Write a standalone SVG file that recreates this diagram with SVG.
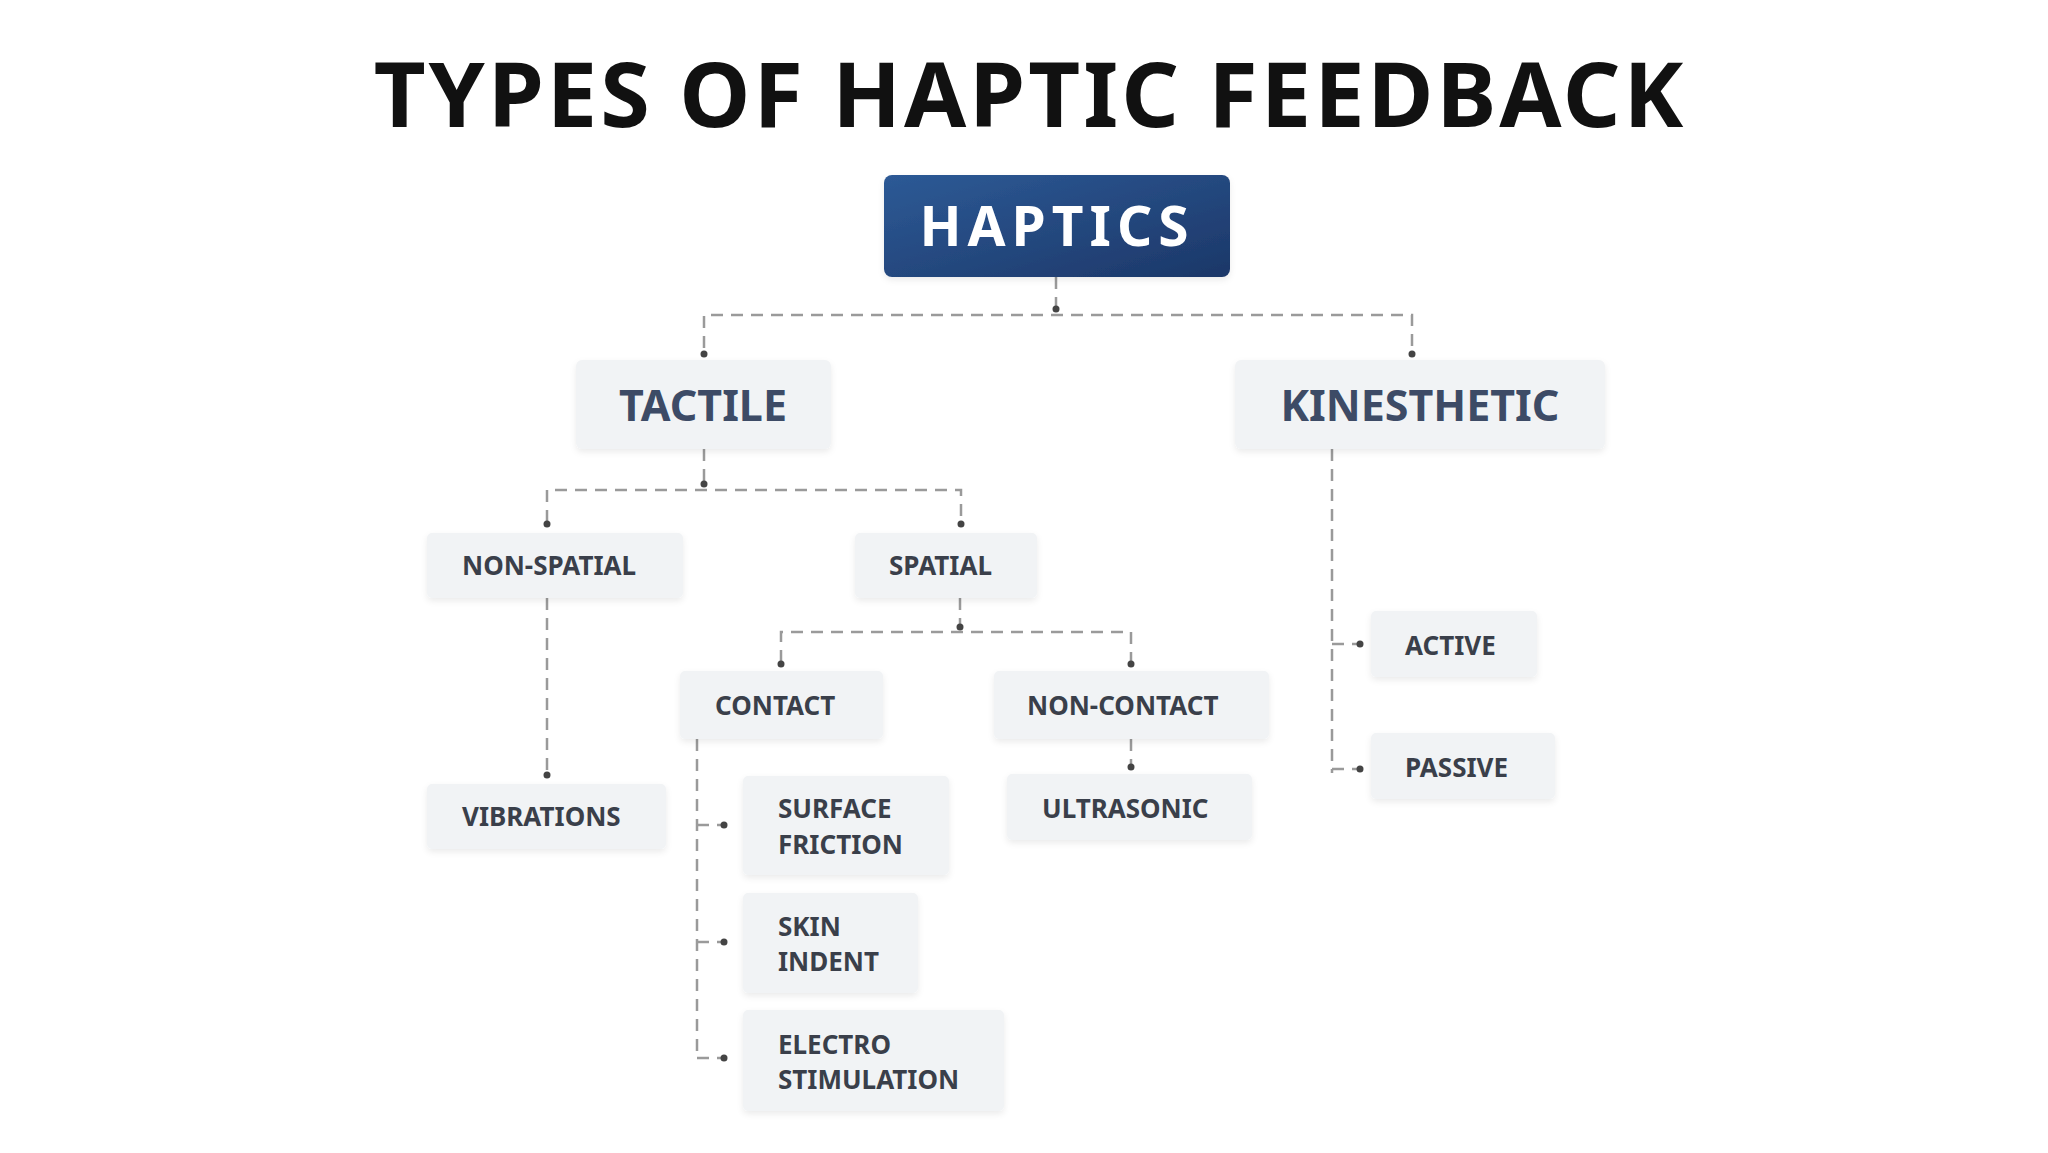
<svg xmlns="http://www.w3.org/2000/svg" width="2048" height="1153" viewBox="0 0 2048 1153">
<defs>
<linearGradient id="hg" x1="0" y1="0" x2="1" y2="1"><stop offset="0" stop-color="#2d5a96"/><stop offset="1" stop-color="#1c3768"/></linearGradient>
<filter id="sh" x="-10%" y="-10%" width="120%" height="130%"><feDropShadow dx="0" dy="3" stdDeviation="3" flood-color="#000" flood-opacity="0.08"/></filter>
</defs>
<style>
.n{fill:#f1f3f5;filter:url(#sh)}
.t{font-family:"Noto Sans","Liberation Sans",sans-serif;font-weight:700;fill:#3a3f4a}
.s{font-size:26px}
.c{fill:none;stroke:#9a9a9a;stroke-width:2.5;stroke-dasharray:12 8}
.d{fill:#444}
</style>
<rect width="2048" height="1153" fill="#fff"/>
<text x="1030" y="127" text-anchor="middle" font-family="'Noto Sans','DejaVu Sans',sans-serif" font-weight="700" font-size="90" letter-spacing="3" fill="#111">TYPES OF HAPTIC FEEDBACK</text>
<g id="connectors">
<path class="c" d="M1056 277V315M704 348V315H1412V348"/>
<path class="c" d="M704 449V490M547 522V490H961V522"/>
<path class="c" d="M547 598V773"/>
<path class="c" d="M960 598V632M781 662V632H1131V662"/>
<path class="c" d="M1131 739V765"/>
<path class="c" d="M697 739V1058M697 825H722M697 942H722M697 1058H722"/>
<path class="c" d="M1332 449V773M1332 644H1358M1332 769H1358"/>
<g class="d">
<circle cx="1056" cy="309" r="3.5"/><circle cx="704" cy="354" r="3.5"/><circle cx="1412" cy="354" r="3.5"/>
<circle cx="704" cy="484" r="3.5"/><circle cx="547" cy="524" r="3.5"/><circle cx="961" cy="524" r="3.5"/>
<circle cx="547" cy="775" r="3.5"/><circle cx="960" cy="627" r="3.5"/><circle cx="781" cy="664" r="3.5"/><circle cx="1131" cy="664" r="3.5"/>
<circle cx="1131" cy="767" r="3.5"/><circle cx="724" cy="825" r="3.5"/><circle cx="724" cy="942" r="3.5"/><circle cx="724" cy="1058" r="3.5"/>
<circle cx="1360" cy="644" r="3.5"/><circle cx="1360" cy="769" r="3.5"/>
</g>
</g>
<g id="haptics"><rect x="884" y="175" width="346" height="102" rx="8" fill="url(#hg)" filter="url(#sh)"/><text x="1057" y="246" text-anchor="middle" font-family="'Noto Sans','Liberation Sans',sans-serif" font-weight="700" font-size="55" letter-spacing="6" fill="#fff">HAPTICS</text></g>
<g id="tactile"><rect class="n" x="576" y="360" width="255" height="89" rx="6"/><text class="t" x="703" y="421" text-anchor="middle" font-size="43" style="fill:#3d4b66">TACTILE</text></g>
<g id="kinesthetic"><rect class="n" x="1235" y="360" width="370" height="89" rx="6"/><text class="t" x="1420" y="421" text-anchor="middle" font-size="43" style="fill:#3d4b66">KINESTHETIC</text></g>
<g id="nonspatial"><rect class="n" x="427" y="533" width="256" height="65" rx="5"/><text class="t s" x="462" y="575">NON-SPATIAL</text></g>
<g id="spatial"><rect class="n" x="855" y="533" width="182" height="65" rx="5"/><text class="t s" x="889" y="575">SPATIAL</text></g>
<g id="vibrations"><rect class="n" x="427" y="784" width="239" height="65" rx="5"/><text class="t s" x="462" y="826">VIBRATIONS</text></g>
<g id="contact"><rect class="n" x="680" y="671" width="203" height="68" rx="5"/><text class="t s" x="715" y="715">CONTACT</text></g>
<g id="noncontact"><rect class="n" x="994" y="671" width="275" height="68" rx="5"/><text class="t s" x="1027" y="715">NON-CONTACT</text></g>
<g id="ultrasonic"><rect class="n" x="1007" y="774" width="245" height="66" rx="5"/><text class="t s" x="1042" y="818">ULTRASONIC</text></g>
<g id="surface"><rect class="n" x="743" y="776" width="206" height="99" rx="5"/><text class="t s" x="778" y="818">SURFACE</text><text class="t s" x="778" y="854">FRICTION</text></g>
<g id="skin"><rect class="n" x="743" y="893" width="175" height="100" rx="5"/><text class="t s" x="778" y="936">SKIN</text><text class="t s" x="778" y="971">INDENT</text></g>
<g id="electro"><rect class="n" x="743" y="1010" width="261" height="101" rx="5"/><text class="t s" x="778" y="1054">ELECTRO</text><text class="t s" x="778" y="1089">STIMULATION</text></g>
<g id="active"><rect class="n" x="1371" y="611" width="166" height="66" rx="5"/><text class="t s" x="1405" y="655">ACTIVE</text></g>
<g id="passive"><rect class="n" x="1371" y="733" width="184" height="66" rx="5"/><text class="t s" x="1405" y="777">PASSIVE</text></g>
</svg>
